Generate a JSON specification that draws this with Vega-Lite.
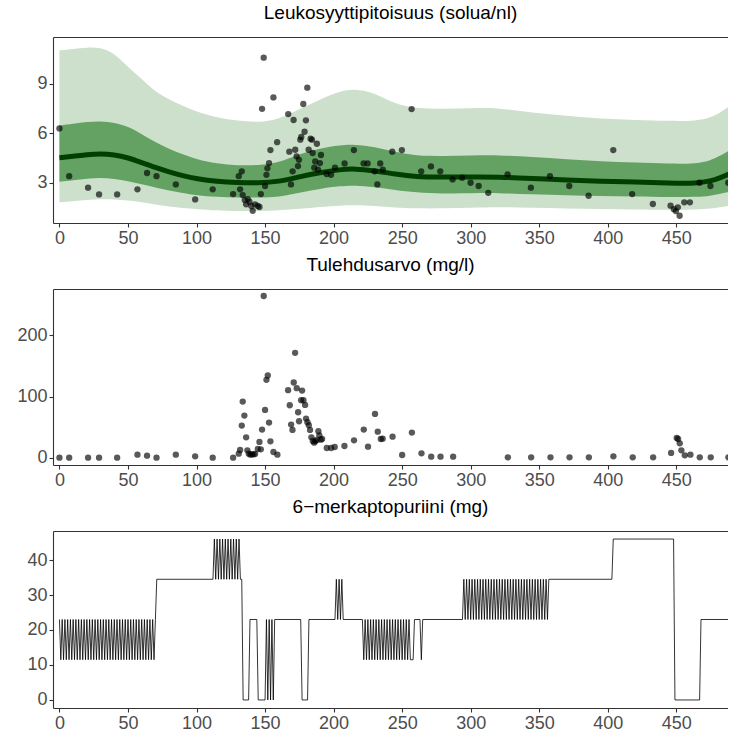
{
  "$schema": "https://vega.github.io/schema/vega-lite/v6.json",
  "background": "white",
  "padding": {"left": 16, "top": 4, "right": 0, "bottom": 0},
  "config": {
    "view": {"stroke": null},
    "font": "Liberation Sans",
    "axis": {"labelFont": "Liberation Sans", "labelFontSize": 18, "labelColor": "#4D4D4D", "tickColor": "#333333", "domainColor": "#333333", "tickSize": 4, "labelPadding": 2, "grid": false, "title": null, "domainWidth": 1.1, "tickWidth": 1.1},
    "title": {"font": "Liberation Sans", "fontSize": 19, "fontWeight": "normal", "color": "#000000", "anchor": "middle", "offset": 14},
    "concat": {"spacing": 9}
  },
  "datasets": {
    "gp": [
      {"x": 0, "hi95": 11.02, "hi50": 6.47, "mean": 4.52, "lo50": 3.06, "lo95": 1.81},
      {"x": 10, "hi95": 11.1, "hi50": 6.58, "mean": 4.6, "lo50": 3.15, "lo95": 1.88},
      {"x": 20, "hi95": 11.2, "hi50": 6.68, "mean": 4.7, "lo50": 3.25, "lo95": 1.96},
      {"x": 30, "hi95": 11.2, "hi50": 6.74, "mean": 4.76, "lo50": 3.3, "lo95": 2.0},
      {"x": 40, "hi95": 10.85, "hi50": 6.65, "mean": 4.7, "lo50": 3.25, "lo95": 2.0},
      {"x": 50, "hi95": 10.0, "hi50": 6.42, "mean": 4.52, "lo50": 3.1, "lo95": 1.92},
      {"x": 60, "hi95": 9.3, "hi50": 5.95, "mean": 4.22, "lo50": 2.9, "lo95": 1.82},
      {"x": 70, "hi95": 8.5, "hi50": 5.45, "mean": 3.92, "lo50": 2.72, "lo95": 1.68},
      {"x": 80, "hi95": 8.05, "hi50": 5.05, "mean": 3.65, "lo50": 2.52, "lo95": 1.55},
      {"x": 90, "hi95": 7.65, "hi50": 4.72, "mean": 3.42, "lo50": 2.38, "lo95": 1.46},
      {"x": 100, "hi95": 7.3, "hi50": 4.42, "mean": 3.24, "lo50": 2.24, "lo95": 1.4},
      {"x": 115, "hi95": 6.95, "hi50": 4.15, "mean": 3.07, "lo50": 2.14, "lo95": 1.32},
      {"x": 130, "hi95": 6.75, "hi50": 4.05, "mean": 3.0, "lo50": 2.1, "lo95": 1.28},
      {"x": 145, "hi95": 6.65, "hi50": 4.05, "mean": 2.98, "lo50": 2.1, "lo95": 1.28},
      {"x": 160, "hi95": 6.84, "hi50": 4.21, "mean": 3.06, "lo50": 2.13, "lo95": 1.32},
      {"x": 175, "hi95": 7.45, "hi50": 4.75, "mean": 3.36, "lo50": 2.4, "lo95": 1.42},
      {"x": 190, "hi95": 8.05, "hi50": 5.08, "mean": 3.62, "lo50": 2.64, "lo95": 1.54},
      {"x": 205, "hi95": 8.55, "hi50": 5.28, "mean": 3.8, "lo50": 2.8, "lo95": 1.62},
      {"x": 215, "hi95": 8.7, "hi50": 5.32, "mean": 3.85, "lo50": 2.84, "lo95": 1.65},
      {"x": 230, "hi95": 8.45, "hi50": 5.18, "mean": 3.73, "lo50": 2.75, "lo95": 1.6},
      {"x": 245, "hi95": 7.75, "hi50": 4.85, "mean": 3.52, "lo50": 2.55, "lo95": 1.48},
      {"x": 260, "hi95": 7.52, "hi50": 4.64, "mean": 3.36, "lo50": 2.41, "lo95": 1.44},
      {"x": 280, "hi95": 7.47, "hi50": 4.62, "mean": 3.34, "lo50": 2.34, "lo95": 1.44},
      {"x": 300, "hi95": 7.51, "hi50": 4.64, "mean": 3.34, "lo50": 2.36, "lo95": 1.48},
      {"x": 320, "hi95": 7.55, "hi50": 4.68, "mean": 3.35, "lo50": 2.39, "lo95": 1.53},
      {"x": 345, "hi95": 7.23, "hi50": 4.55, "mean": 3.26, "lo50": 2.29, "lo95": 1.48},
      {"x": 370, "hi95": 7.05, "hi50": 4.43, "mean": 3.16, "lo50": 2.25, "lo95": 1.44},
      {"x": 395, "hi95": 6.88, "hi50": 4.3, "mean": 3.09, "lo50": 2.2, "lo95": 1.4},
      {"x": 420, "hi95": 6.8, "hi50": 4.22, "mean": 3.05, "lo50": 2.17, "lo95": 1.38},
      {"x": 445, "hi95": 6.74, "hi50": 4.15, "mean": 2.98, "lo50": 2.13, "lo95": 1.36},
      {"x": 465, "hi95": 6.74, "hi50": 4.15, "mean": 2.96, "lo50": 2.13, "lo95": 1.36},
      {"x": 475, "hi95": 6.95, "hi50": 4.36, "mean": 3.1, "lo50": 2.21, "lo95": 1.44},
      {"x": 482, "hi95": 7.25, "hi50": 4.62, "mean": 3.3, "lo50": 2.32, "lo95": 1.51},
      {"x": 490, "hi95": 7.7, "hi50": 5.02, "mean": 3.58, "lo50": 2.48, "lo95": 1.62}
    ],
    "leuko": [
      {"x": 0, "v": 6.29}, {"x": 7.1, "v": 3.4}, {"x": 20.9, "v": 2.7}, {"x": 28.9, "v": 2.29}, {"x": 42.1, "v": 2.29},
      {"x": 56.9, "v": 2.6}, {"x": 63.9, "v": 3.59}, {"x": 70.8, "v": 3.4}, {"x": 84.9, "v": 2.9}, {"x": 99.0, "v": 1.99},
      {"x": 111.8, "v": 2.6}, {"x": 126.7, "v": 2.31}, {"x": 130.8, "v": 3.4}, {"x": 131.8, "v": 2.6}, {"x": 133.0, "v": 3.69},
      {"x": 133.7, "v": 2.25}, {"x": 135.2, "v": 1.95}, {"x": 136.2, "v": 1.69}, {"x": 137.4, "v": 2.01}, {"x": 138.6, "v": 1.85},
      {"x": 140.0, "v": 1.59}, {"x": 141.0, "v": 1.3}, {"x": 142.7, "v": 1.69}, {"x": 144.7, "v": 1.59}, {"x": 145.9, "v": 1.53},
      {"x": 146.9, "v": 2.31}, {"x": 147.8, "v": 7.48}, {"x": 149.0, "v": 10.58}, {"x": 150.0, "v": 2.8}, {"x": 151.0, "v": 3.48},
      {"x": 151.7, "v": 3.87}, {"x": 152.9, "v": 4.19}, {"x": 153.9, "v": 4.98}, {"x": 156.1, "v": 8.17}, {"x": 158.8, "v": 5.46},
      {"x": 166.9, "v": 7.16}, {"x": 167.7, "v": 4.88}, {"x": 168.9, "v": 2.9}, {"x": 170.1, "v": 3.69}, {"x": 170.8, "v": 6.8},
      {"x": 172.0, "v": 5.0}, {"x": 173.0, "v": 4.6}, {"x": 174.0, "v": 4.01}, {"x": 174.7, "v": 4.39}, {"x": 175.7, "v": 5.61},
      {"x": 176.4, "v": 5.77}, {"x": 177.9, "v": 7.77}, {"x": 178.8, "v": 6.09}, {"x": 179.8, "v": 6.78}, {"x": 180.8, "v": 8.76},
      {"x": 181.8, "v": 5.0}, {"x": 183.2, "v": 5.67}, {"x": 184.2, "v": 5.61}, {"x": 184.7, "v": 4.8}, {"x": 185.9, "v": 3.91},
      {"x": 186.6, "v": 4.29}, {"x": 187.8, "v": 5.36}, {"x": 188.6, "v": 3.79}, {"x": 190.0, "v": 4.19}, {"x": 190.8, "v": 4.68},
      {"x": 194.9, "v": 3.53}, {"x": 198.1, "v": 3.48}, {"x": 201.0, "v": 3.91}, {"x": 208.0, "v": 4.17}, {"x": 214.8, "v": 4.98},
      {"x": 221.9, "v": 4.17}, {"x": 224.8, "v": 4.17}, {"x": 229.9, "v": 3.69}, {"x": 231.9, "v": 2.9}, {"x": 234.0, "v": 4.17},
      {"x": 235.9, "v": 3.79}, {"x": 242.8, "v": 4.88}, {"x": 249.8, "v": 4.98}, {"x": 256.9, "v": 7.46}, {"x": 263.9, "v": 3.69},
      {"x": 271.0, "v": 3.99}, {"x": 277.8, "v": 3.69}, {"x": 286.8, "v": 3.2}, {"x": 293.8, "v": 3.3}, {"x": 299.9, "v": 3.0},
      {"x": 305.8, "v": 2.8}, {"x": 312.8, "v": 2.39}, {"x": 326.9, "v": 3.51}, {"x": 343.9, "v": 2.7}, {"x": 357.8, "v": 3.4},
      {"x": 371.9, "v": 2.8}, {"x": 386.0, "v": 2.21}, {"x": 404.0, "v": 4.98}, {"x": 417.8, "v": 2.31}, {"x": 432.9, "v": 1.71},
      {"x": 445.8, "v": 1.61}, {"x": 448.2, "v": 1.4}, {"x": 449.7, "v": 1.28}, {"x": 451.1, "v": 1.51}, {"x": 452.4, "v": 1.0},
      {"x": 455.8, "v": 1.81}, {"x": 459.9, "v": 1.81}, {"x": 466.9, "v": 3.0}, {"x": 474.9, "v": 2.8}, {"x": 487.9, "v": 3.0}
    ],
    "crp": [
      {"x": 0, "v": 0}, {"x": 7.1, "v": 0}, {"x": 20.9, "v": 0}, {"x": 28.9, "v": 0}, {"x": 42.1, "v": 0},
      {"x": 56.9, "v": 4.9}, {"x": 63.9, "v": 3.3}, {"x": 70.8, "v": 0}, {"x": 84.9, "v": 4.9}, {"x": 99.0, "v": 2.2},
      {"x": 111.8, "v": 0}, {"x": 126.7, "v": 0}, {"x": 130.8, "v": 6.6}, {"x": 131.8, "v": 12.6}, {"x": 133.0, "v": 52.5},
      {"x": 133.7, "v": 91.8}, {"x": 134.9, "v": 68.9}, {"x": 136.2, "v": 33.3}, {"x": 137.1, "v": 12.0}, {"x": 138.1, "v": 6.6},
      {"x": 139.3, "v": 4.9}, {"x": 140.3, "v": 5.5}, {"x": 141.5, "v": 5.5}, {"x": 142.7, "v": 6.0}, {"x": 144.7, "v": 14.2},
      {"x": 145.9, "v": 25.7}, {"x": 146.9, "v": 13.7}, {"x": 147.8, "v": 45.9}, {"x": 149.0, "v": 264.5}, {"x": 150.0, "v": 78.1},
      {"x": 151.0, "v": 127.3}, {"x": 152.0, "v": 134.4}, {"x": 152.9, "v": 57.4}, {"x": 153.9, "v": 26.8}, {"x": 156.1, "v": 9.3},
      {"x": 159.0, "v": 4.9}, {"x": 166.8, "v": 110.4}, {"x": 168.0, "v": 85.8}, {"x": 169.0, "v": 54.1}, {"x": 170.0, "v": 45.4},
      {"x": 170.9, "v": 123.0}, {"x": 171.9, "v": 171.6}, {"x": 173.1, "v": 113.7}, {"x": 174.1, "v": 74.3}, {"x": 174.8, "v": 59.6},
      {"x": 176.3, "v": 94.0}, {"x": 177.0, "v": 109.8}, {"x": 178.0, "v": 94.0}, {"x": 179.2, "v": 86.3}, {"x": 179.9, "v": 63.9},
      {"x": 180.9, "v": 57.9}, {"x": 181.9, "v": 53.0}, {"x": 182.8, "v": 45.4}, {"x": 183.8, "v": 33.3}, {"x": 184.8, "v": 27.3},
      {"x": 185.8, "v": 24.6}, {"x": 186.7, "v": 26.8}, {"x": 187.7, "v": 29.0}, {"x": 188.9, "v": 43.2}, {"x": 189.6, "v": 36.6},
      {"x": 190.6, "v": 29.5}, {"x": 191.6, "v": 30.6}, {"x": 195.0, "v": 15.8}, {"x": 198.2, "v": 15.8}, {"x": 200.8, "v": 17.5},
      {"x": 207.9, "v": 19.1}, {"x": 214.9, "v": 28.4}, {"x": 222.0, "v": 45.9}, {"x": 225.1, "v": 18.0}, {"x": 230.2, "v": 71.6},
      {"x": 232.2, "v": 42.6}, {"x": 234.4, "v": 30.6}, {"x": 235.8, "v": 31.1}, {"x": 243.0, "v": 34.4}, {"x": 250.0, "v": 4.4},
      {"x": 257.1, "v": 41.0}, {"x": 264.1, "v": 7.1}, {"x": 271.2, "v": 1.6}, {"x": 278.0, "v": 1.6}, {"x": 287.2, "v": 1.6},
      {"x": 327.1, "v": 0.5}, {"x": 344.1, "v": 0.5}, {"x": 358.2, "v": 0.5}, {"x": 372.1, "v": 0.5}, {"x": 386.2, "v": 0.5},
      {"x": 404.1, "v": 2.2}, {"x": 418.2, "v": 0.5}, {"x": 433.1, "v": 0.5}, {"x": 446.2, "v": 7.7}, {"x": 450.3, "v": 32.2},
      {"x": 451.3, "v": 30.6}, {"x": 452.5, "v": 23.5}, {"x": 453.7, "v": 12.0}, {"x": 456.2, "v": 3.8}, {"x": 460.3, "v": 4.9},
      {"x": 467.1, "v": 0.5}, {"x": 475.1, "v": 0.5}, {"x": 488.0, "v": 0.5}
    ],
    "dose": [
      {"d": 0, "mg": 23}, {"d": 1, "mg": 11.5}, {"d": 2, "mg": 23}, {"d": 3, "mg": 11.5}, {"d": 4, "mg": 23}, {"d": 5, "mg": 11.5},
      {"d": 6, "mg": 23}, {"d": 7, "mg": 11.5}, {"d": 8, "mg": 23}, {"d": 9, "mg": 11.5}, {"d": 10, "mg": 23}, {"d": 11, "mg": 11.5},
      {"d": 12, "mg": 23}, {"d": 13, "mg": 11.5}, {"d": 14, "mg": 23}, {"d": 15, "mg": 11.5}, {"d": 16, "mg": 23}, {"d": 17, "mg": 11.5},
      {"d": 18, "mg": 23}, {"d": 19, "mg": 11.5}, {"d": 20, "mg": 23}, {"d": 21, "mg": 11.5}, {"d": 22, "mg": 23}, {"d": 23, "mg": 11.5},
      {"d": 24, "mg": 23}, {"d": 25, "mg": 11.5}, {"d": 26, "mg": 23}, {"d": 27, "mg": 11.5}, {"d": 28, "mg": 23}, {"d": 29, "mg": 11.5},
      {"d": 30, "mg": 23}, {"d": 31, "mg": 11.5}, {"d": 32, "mg": 23}, {"d": 33, "mg": 11.5}, {"d": 34, "mg": 23}, {"d": 35, "mg": 11.5},
      {"d": 36, "mg": 23}, {"d": 37, "mg": 11.5}, {"d": 38, "mg": 23}, {"d": 39, "mg": 11.5}, {"d": 40, "mg": 23}, {"d": 41, "mg": 11.5},
      {"d": 42, "mg": 23}, {"d": 43, "mg": 11.5}, {"d": 44, "mg": 23}, {"d": 45, "mg": 11.5}, {"d": 46, "mg": 23}, {"d": 47, "mg": 11.5},
      {"d": 48, "mg": 23}, {"d": 49, "mg": 11.5}, {"d": 50, "mg": 23}, {"d": 51, "mg": 11.5}, {"d": 52, "mg": 23}, {"d": 53, "mg": 11.5},
      {"d": 54, "mg": 23}, {"d": 55, "mg": 11.5}, {"d": 56, "mg": 23}, {"d": 57, "mg": 11.5}, {"d": 58, "mg": 23}, {"d": 59, "mg": 11.5},
      {"d": 60, "mg": 23}, {"d": 61, "mg": 11.5}, {"d": 62, "mg": 23}, {"d": 63, "mg": 11.5}, {"d": 64, "mg": 23}, {"d": 65, "mg": 11.5},
      {"d": 66, "mg": 23}, {"d": 67, "mg": 11.5}, {"d": 68, "mg": 23}, {"d": 69, "mg": 11.5}, {"d": 70, "mg": 23},
      {"d": 71, "mg": 34.5}, {"d": 112, "mg": 34.5},
      {"d": 113, "mg": 46}, {"d": 114, "mg": 34.5}, {"d": 115, "mg": 46}, {"d": 116, "mg": 34.5}, {"d": 117, "mg": 46}, {"d": 118, "mg": 34.5},
      {"d": 119, "mg": 46}, {"d": 120, "mg": 34.5}, {"d": 121, "mg": 46}, {"d": 122, "mg": 34.5}, {"d": 123, "mg": 46}, {"d": 124, "mg": 34.5},
      {"d": 125, "mg": 46}, {"d": 126, "mg": 34.5}, {"d": 127, "mg": 46}, {"d": 128, "mg": 34.5}, {"d": 129, "mg": 46}, {"d": 130, "mg": 34.5},
      {"d": 131, "mg": 46}, {"d": 132, "mg": 34.5}, {"d": 133, "mg": 34.5},
      {"d": 134, "mg": 0}, {"d": 138, "mg": 0}, {"d": 139, "mg": 23}, {"d": 144, "mg": 23}, {"d": 145, "mg": 0}, {"d": 150, "mg": 0},
      {"d": 151, "mg": 23}, {"d": 152, "mg": 0}, {"d": 153, "mg": 23}, {"d": 154, "mg": 0}, {"d": 155, "mg": 23}, {"d": 156, "mg": 0},
      {"d": 157, "mg": 23}, {"d": 176, "mg": 23}, {"d": 177, "mg": 0}, {"d": 181, "mg": 0}, {"d": 182, "mg": 23}, {"d": 201, "mg": 23},
      {"d": 202, "mg": 34.5}, {"d": 203, "mg": 23}, {"d": 204, "mg": 34.5}, {"d": 205, "mg": 23}, {"d": 206, "mg": 34.5}, {"d": 207, "mg": 23},
      {"d": 221, "mg": 23},
      {"d": 222, "mg": 11.5}, {"d": 223, "mg": 23}, {"d": 224, "mg": 11.5}, {"d": 225, "mg": 23}, {"d": 226, "mg": 11.5}, {"d": 227, "mg": 23},
      {"d": 228, "mg": 11.5}, {"d": 229, "mg": 23}, {"d": 230, "mg": 11.5}, {"d": 231, "mg": 23}, {"d": 232, "mg": 11.5}, {"d": 233, "mg": 23},
      {"d": 234, "mg": 11.5}, {"d": 235, "mg": 23}, {"d": 236, "mg": 11.5}, {"d": 237, "mg": 23}, {"d": 238, "mg": 11.5}, {"d": 239, "mg": 23},
      {"d": 240, "mg": 11.5}, {"d": 241, "mg": 23}, {"d": 242, "mg": 11.5}, {"d": 243, "mg": 23}, {"d": 244, "mg": 11.5}, {"d": 245, "mg": 23},
      {"d": 246, "mg": 11.5}, {"d": 247, "mg": 23}, {"d": 248, "mg": 11.5}, {"d": 249, "mg": 23}, {"d": 250, "mg": 11.5}, {"d": 251, "mg": 23},
      {"d": 252, "mg": 11.5}, {"d": 253, "mg": 23}, {"d": 254, "mg": 11.5}, {"d": 255, "mg": 23}, {"d": 256, "mg": 11.5}, {"d": 258, "mg": 11.5},
      {"d": 259, "mg": 23}, {"d": 263, "mg": 23}, {"d": 264, "mg": 11.5}, {"d": 265, "mg": 23}, {"d": 294, "mg": 23},
      {"d": 295, "mg": 34.5}, {"d": 296, "mg": 23}, {"d": 297, "mg": 34.5}, {"d": 298, "mg": 23}, {"d": 299, "mg": 34.5}, {"d": 300, "mg": 23},
      {"d": 301, "mg": 34.5}, {"d": 302, "mg": 23}, {"d": 303, "mg": 34.5}, {"d": 304, "mg": 23}, {"d": 305, "mg": 34.5}, {"d": 306, "mg": 23},
      {"d": 307, "mg": 34.5}, {"d": 308, "mg": 23}, {"d": 309, "mg": 34.5}, {"d": 310, "mg": 23}, {"d": 311, "mg": 34.5}, {"d": 312, "mg": 23},
      {"d": 313, "mg": 34.5}, {"d": 314, "mg": 23}, {"d": 315, "mg": 34.5}, {"d": 316, "mg": 23}, {"d": 317, "mg": 34.5}, {"d": 318, "mg": 23},
      {"d": 319, "mg": 34.5}, {"d": 320, "mg": 23}, {"d": 321, "mg": 34.5}, {"d": 322, "mg": 23}, {"d": 323, "mg": 34.5}, {"d": 324, "mg": 23},
      {"d": 325, "mg": 34.5}, {"d": 326, "mg": 23}, {"d": 327, "mg": 34.5}, {"d": 328, "mg": 23}, {"d": 329, "mg": 34.5}, {"d": 330, "mg": 23},
      {"d": 331, "mg": 34.5}, {"d": 332, "mg": 23}, {"d": 333, "mg": 34.5}, {"d": 334, "mg": 23}, {"d": 335, "mg": 34.5}, {"d": 336, "mg": 23},
      {"d": 337, "mg": 34.5}, {"d": 338, "mg": 23}, {"d": 339, "mg": 34.5}, {"d": 340, "mg": 23}, {"d": 341, "mg": 34.5}, {"d": 342, "mg": 23},
      {"d": 343, "mg": 34.5}, {"d": 344, "mg": 23}, {"d": 345, "mg": 34.5}, {"d": 346, "mg": 23}, {"d": 347, "mg": 34.5}, {"d": 348, "mg": 23},
      {"d": 349, "mg": 34.5}, {"d": 350, "mg": 23}, {"d": 351, "mg": 34.5}, {"d": 352, "mg": 23}, {"d": 353, "mg": 34.5}, {"d": 354, "mg": 23},
      {"d": 355, "mg": 34.5}, {"d": 356, "mg": 23},
      {"d": 357, "mg": 34.5}, {"d": 403, "mg": 34.5}, {"d": 404, "mg": 46}, {"d": 448, "mg": 46}, {"d": 449, "mg": 0}, {"d": 467, "mg": 0},
      {"d": 468, "mg": 23}, {"d": 495, "mg": 23}
    ]
  },
  "vconcat": [
    {
      "title": "Leukosyyttipitoisuus (solua/nl)",
      "width": 675,
      "height": 186,
      "resolve": {"axis": {"x": "independent"}},
      "layer": [
        {
          "data": {"name": "gp"},
          "mark": {"type": "area", "color": "#CCE0CC", "interpolate": "basis", "clip": true},
          "encoding": {
            "x": {"field": "x", "type": "quantitative", "scale": {"domain": [-4.7, 487.7], "nice": false, "zero": false}, "axis": {"orient": "bottom", "values": [0, 50, 100, 150, 200, 250, 300, 350, 400, 450]}},
            "y": {"field": "hi95", "type": "quantitative", "scale": {"domain": [0.56, 11.83], "nice": false, "zero": false}, "axis": {"values": [3, 6, 9]}},
            "y2": {"field": "lo95"}
          }
        },
        {
          "data": {"name": "gp"},
          "mark": {"type": "area", "color": "#63A263", "interpolate": "basis", "clip": true},
          "encoding": {
            "x": {"field": "x", "type": "quantitative", "axis": null},
            "y": {"field": "hi50", "type": "quantitative"},
            "y2": {"field": "lo50"}
          }
        },
        {
          "data": {"name": "gp"},
          "mark": {"type": "line", "color": "#003F00", "strokeWidth": 5, "interpolate": "basis", "clip": true},
          "encoding": {
            "x": {"field": "x", "type": "quantitative", "axis": null},
            "y": {"field": "mean", "type": "quantitative"}
          }
        },
        {
          "data": {"name": "leuko"},
          "mark": {"type": "circle", "color": "#000000", "opacity": 0.65, "size": 40, "clip": true},
          "encoding": {
            "x": {"field": "x", "type": "quantitative", "axis": {"orient": "top", "labels": false, "ticks": false, "domain": true}},
            "y": {"field": "v", "type": "quantitative"}
          }
        }
      ]
    },
    {
      "title": "Tulehdusarvo (mg/l)",
      "width": 675,
      "height": 176,
      "resolve": {"axis": {"x": "independent"}},
      "data": {"name": "crp"},
      "layer": [
        {
          "mark": {"type": "circle", "color": "#000000", "opacity": 0.65, "size": 40, "clip": true},
          "encoding": {
            "x": {"field": "x", "type": "quantitative", "scale": {"domain": [-4.7, 487.7], "nice": false, "zero": false}, "axis": {"orient": "bottom", "values": [0, 50, 100, 150, 200, 250, 300, 350, 400, 450]}},
            "y": {"field": "v", "type": "quantitative", "scale": {"domain": [-12, 276], "nice": false, "zero": false}, "axis": {"values": [0, 100, 200]}}
          }
        },
        {
          "mark": {"type": "circle", "opacity": 0, "clip": true},
          "encoding": {
            "x": {"field": "x", "type": "quantitative", "axis": {"orient": "top", "labels": false, "ticks": false, "domain": true}},
            "y": {"field": "v", "type": "quantitative"}
          }
        }
      ]
    },
    {
      "title": "6−merkaptopuriini (mg)",
      "width": 675,
      "height": 177,
      "resolve": {"axis": {"x": "independent"}},
      "data": {"name": "dose"},
      "layer": [
        {
          "mark": {"type": "line", "color": "#000000", "strokeWidth": 0.8, "clip": true},
          "encoding": {
            "x": {"field": "d", "type": "quantitative", "scale": {"domain": [-4.7, 487.7], "nice": false, "zero": false}, "axis": {"orient": "bottom", "values": [0, 50, 100, 150, 200, 250, 300, 350, 400, 450]}},
            "y": {"field": "mg", "type": "quantitative", "scale": {"domain": [-2.3, 48.3], "nice": false, "zero": false}, "axis": {"values": [0, 10, 20, 30, 40]}}
          }
        },
        {
          "mark": {"type": "point", "opacity": 0, "clip": true},
          "encoding": {
            "x": {"field": "d", "type": "quantitative", "axis": {"orient": "top", "labels": false, "ticks": false, "domain": true}},
            "y": {"field": "mg", "type": "quantitative"}
          }
        }
      ]
    }
  ]
}
